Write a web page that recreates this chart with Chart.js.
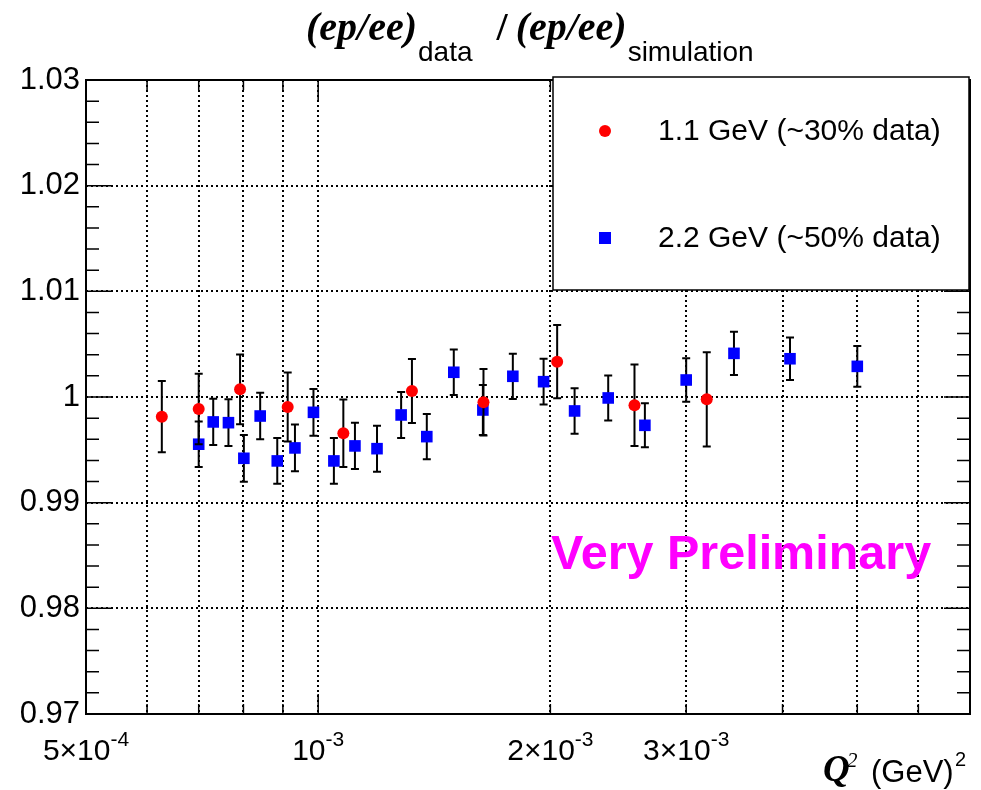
<!DOCTYPE html>
<html>
<head>
<meta charset="utf-8">
<script src="https://cdn.jsdelivr.net/npm/chart.js@4"></script>
<style>
  body { margin: 0; background: #fff; }
  canvas { display: block; }
</style>
</head>
<body>
<canvas id="ratioChart" width="981" height="790"></canvas>
<script>
// values
var q2Red = [6.27e-4, 7.0e-4, 7.92e-4, 9.13e-4, 1.078e-3, 1.323e-3, 1.638e-3, 2.041e-3, 2.571e-3, 3.19e-3];
var ratioRed = [0.99814, 0.99887, 1.00073, 0.99905, 0.99657, 1.00057, 0.9995, 1.00334, 0.99922, 0.99978];
var errRed = [0.00337, 0.00334, 0.0033, 0.00326, 0.00319, 0.00303, 0.00314, 0.00347, 0.00386, 0.00446];

var q2Blue = [7.0e-4, 7.31e-4, 7.65e-4, 8.01e-4, 8.41e-4, 8.85e-4, 9.33e-4, 9.86e-4, 1.048e-3, 1.116e-3,
              1.192e-3, 1.281e-3, 1.383e-3, 1.499e-3, 1.635e-3, 1.788e-3, 1.96e-3, 2.15e-3, 2.377e-3,
              2.652e-3, 3.0e-3, 3.46e-3, 4.09e-3, 5.0e-3];
var ratioBlue = [0.99553, 0.99764, 0.99757, 0.9942, 0.9982, 0.99395, 0.99518, 0.99855, 0.99395, 0.99537,
                 0.99511, 0.9983, 0.99625, 1.00234, 0.99877, 1.00196, 1.00145, 0.99868, 0.99991,
                 0.99732, 1.00161, 1.00413, 1.00362, 1.0029];
var errBlue = [0.00215, 0.00219, 0.00221, 0.00221, 0.00221, 0.00216, 0.00221, 0.00221, 0.00216, 0.00219,
               0.00218, 0.00218, 0.00213, 0.00216, 0.00236, 0.00214, 0.00216, 0.00215, 0.00213,
               0.00208, 0.00205, 0.00205, 0.002, 0.00192];

var seriesLabels = ['1.1 GeV (~30% data)', '2.2 GeV (~50% data)'];

var yTickValues = [0.97, 0.98, 0.99, 1.0, 1.01, 1.02, 1.03];
var yTickLabels = ['0.97', '0.98', '0.99', '1', '1.01', '1.02', '1.03'];

var xGridValues = [5e-4, 6e-4, 7e-4, 8e-4, 9e-4, 1e-3, 2e-3, 3e-3, 4e-3, 5e-3, 6e-3, 7e-3];
var xLabelValues = [5e-4, 1e-3, 2e-3, 3e-3];
var xLabelMantissa = ['5\u00d710', '10', '2\u00d710', '3\u00d710'];
var xLabelExponent = ['-4', '-3', '-3', '-3'];

var SANS = "'Liberation Sans', Arial, Helvetica, sans-serif";
var SERIF = "'Liberation Serif', 'Times New Roman', serif";

function toPoints(xs, ys) {
    return xs.map(function (x, i) { return { x: x, y: ys[i] }; });
}

// error bars, drawn under each dataset's markers
var errorBars = {
    id: 'errorBars',
    beforeDatasetDraw: function (chart, args) {
        var ds = chart.data.datasets[args.index];
        var xs = chart.scales.x, ys = chart.scales.y, ctx = chart.ctx;
        ctx.save();
        ctx.strokeStyle = '#000';
        ctx.lineWidth = 2;
        ds.data.forEach(function (p, i) {
            var px = xs.getPixelForValue(p.x);
            var top = ys.getPixelForValue(p.y + ds.errors[i]);
            var bot = ys.getPixelForValue(p.y - ds.errors[i]);
            ctx.beginPath();
            ctx.moveTo(px, top); ctx.lineTo(px, bot);
            ctx.moveTo(px - 4, top); ctx.lineTo(px + 4, top);
            ctx.moveTo(px - 4, bot); ctx.lineTo(px + 4, bot);
            ctx.stroke();
        });
        ctx.restore();
    }
};

// draw pieces of text one after the other
function textRun(ctx, x, parts) {
    parts.forEach(function (p) {
        ctx.font = p.font;
        x += p.gap || 0;
        ctx.fillText(p.text, x, p.y);
        x += ctx.measureText(p.text).width;
    });
}

// ROOT style frame with ticks pointing inward
var frame = {
    id: 'frame',
    afterDatasetsDraw: function (chart) {
        var a = chart.chartArea, ctx = chart.ctx;
        var xs = chart.scales.x, ys = chart.scales.y;
        ctx.save();
        ctx.strokeStyle = '#000';
        ctx.lineWidth = 1.5;
        ctx.beginPath();
        // y ticks, major and 4 minor between
        for (var i = 0; i < yTickValues.length; i++) {
            var py = ys.getPixelForValue(yTickValues[i]);
            ctx.moveTo(a.left, py); ctx.lineTo(a.left + 26, py);
            ctx.moveTo(a.right, py); ctx.lineTo(a.right - 26, py);
            if (i < yTickValues.length - 1) {
                for (var k = 1; k < 5; k++) {
                    var pm = ys.getPixelForValue(yTickValues[i] + k * 0.002);
                    ctx.moveTo(a.left, pm); ctx.lineTo(a.left + 13, pm);
                    ctx.moveTo(a.right, pm); ctx.lineTo(a.right - 13, pm);
                }
            }
        }
        xGridValues.forEach(function (v) {
            var px = xs.getPixelForValue(v);
            var len = (v === 1e-3) ? 20 : 10;
            ctx.moveTo(px, a.bottom); ctx.lineTo(px, a.bottom - len);
            ctx.moveTo(px, a.top); ctx.lineTo(px, a.top + len);
        });
        ctx.stroke();
        ctx.lineWidth = 2;
        ctx.strokeRect(a.left, a.top, a.right - a.left, a.bottom - a.top);
        ctx.restore();
    },
    afterDraw: function (chart) {
        var ctx = chart.ctx, xs = chart.scales.x;
        ctx.save();
        ctx.fillStyle = '#000';
        ctx.textBaseline = 'alphabetic';

        // x tick labels with superscript exponents
        xLabelValues.forEach(function (v, i) {
            ctx.font = '30px ' + SANS;
            var w1 = ctx.measureText(xLabelMantissa[i]).width;
            ctx.font = '21px ' + SANS;
            var w2 = ctx.measureText(xLabelExponent[i]).width;
            var x0 = xs.getPixelForValue(v) - (w1 + w2) / 2;
            ctx.font = '30px ' + SANS;
            ctx.fillText(xLabelMantissa[i], x0, 760);
            ctx.font = '21px ' + SANS;
            ctx.fillText(xLabelExponent[i], x0 + w1, 746);
        });

        // x axis title
        ctx.font = 'italic bold 37px ' + SERIF;
        ctx.fillText('Q', 823, 781);
        ctx.font = 'italic 21px ' + SERIF;
        ctx.fillText('2', 847, 767);
        ctx.font = '31px ' + SANS;
        ctx.fillText('(GeV)', 871, 782);
        ctx.font = '20px ' + SANS;
        ctx.fillText('2', 955, 766);

        // title
        var big = 'italic bold 40px ' + SERIF;
        var sub = '28px ' + SANS;
        textRun(ctx, 306, [
            { text: '(ep/ee)', font: big, y: 40 },
            { text: 'data', font: sub, y: 61, gap: 1 },
            { text: '/', font: 'bold 40px ' + SERIF, y: 40, gap: 24 },
            { text: '(ep/ee)', font: big, y: 40, gap: 8 },
            { text: 'simulation', font: sub, y: 61, gap: 1 }
        ]);

        // legend box
        ctx.fillStyle = '#fff';
        ctx.fillRect(553, 77, 416, 213);
        ctx.strokeStyle = '#000';
        ctx.lineWidth = 1.5;
        ctx.strokeRect(553, 77, 416, 213);
        var ds = chart.data.datasets;
        ctx.fillStyle = ds[0].backgroundColor;
        ctx.beginPath();
        ctx.arc(605, 131, 6, 0, Math.PI * 2);
        ctx.fill();
        ctx.fillStyle = ds[1].backgroundColor;
        ctx.fillRect(599, 232, 12, 12);
        ctx.fillStyle = '#000';
        ctx.font = '30px ' + SANS;
        ctx.textBaseline = 'middle';
        ctx.fillText(ds[0].label, 658, 132);
        ctx.fillText(ds[1].label, 658, 239);

        // watermark
        ctx.fillStyle = '#ff00ff';
        ctx.textBaseline = 'alphabetic';
        ctx.font = 'bold 48.5px ' + SANS;
        ctx.fillText('Very Preliminary', 551, 569);
        ctx.restore();
    }
};

document.addEventListener('DOMContentLoaded', function () {
    var ctx = document.getElementById('ratioChart').getContext('2d');
    new Chart(ctx, {
        type: 'scatter',
        data: {
            datasets: [{
                label: seriesLabels[0],
                data: toPoints(q2Red, ratioRed),
                errors: errRed,
                pointStyle: 'circle',
                pointRadius: 6,
                pointHoverRadius: 6,
                backgroundColor: '#ff0000',
                borderColor: '#ff0000',
                borderWidth: 0
            }, {
                label: seriesLabels[1],
                data: toPoints(q2Blue, ratioBlue),
                errors: errBlue,
                pointStyle: 'rect',
                pointRadius: 8.2,
                pointHoverRadius: 8.2,
                backgroundColor: '#0000ff',
                borderColor: '#0000ff',
                borderWidth: 0
            }]
        },
        options: {
            responsive: false,
            animation: false,
            events: [],
            layout: { padding: { top: 80, right: 11, left: 0, bottom: 0 } },
            plugins: {
                legend: { display: false },
                title: { display: false },
                tooltip: { enabled: false }
            },
            scales: {
                x: {
                    type: 'logarithmic',
                    min: 5e-4,
                    max: 7e-3,
                    afterBuildTicks: function (scale) {
                        scale.ticks = xGridValues.map(function (v) { return { value: v }; });
                    },
                    afterFit: function (scale) { scale.height = 76; },
                    ticks: { display: false },
                    grid: { color: '#000', lineWidth: 2, drawTicks: false },
                    border: { display: false, dash: [2, 3] }
                },
                y: {
                    min: 0.97,
                    max: 1.03,
                    afterBuildTicks: function (scale) {
                        scale.ticks = yTickValues.map(function (v) { return { value: v }; });
                    },
                    afterFit: function (scale) { scale.width = 86; },
                    ticks: {
                        autoSkip: false,
                        padding: 6,
                        color: '#000',
                        font: { family: SANS, size: 31 },
                        callback: function (value, index) { return yTickLabels[index]; }
                    },
                    grid: { color: '#000', lineWidth: 2, drawTicks: false },
                    border: { display: false, dash: [2, 3] }
                }
            }
        },
        plugins: [errorBars, frame]
    });
});
</script>
</body>
</html>
